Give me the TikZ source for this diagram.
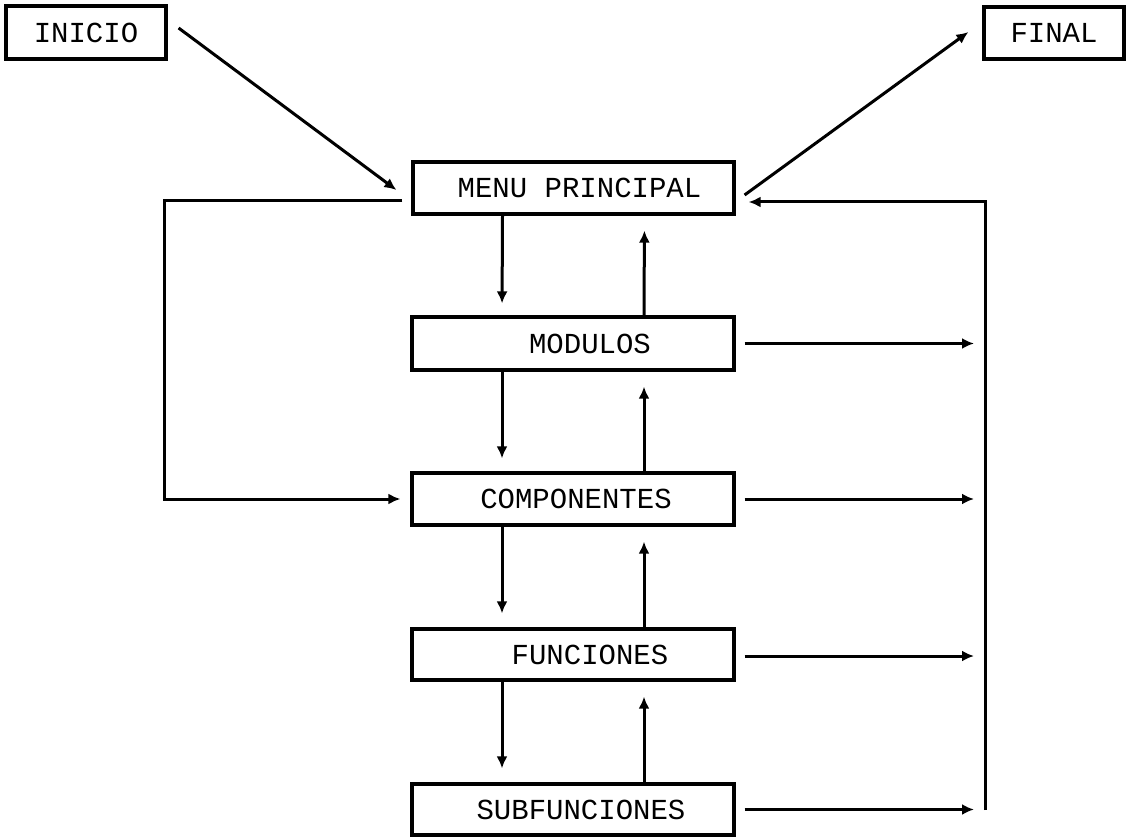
\documentclass[tikz,border=0pt]{standalone}
\usepackage{fontspec}
\setmonofont{Liberation Mono}
\usetikzlibrary{arrows.meta}
\begin{document}
\begin{tikzpicture}[x=1pt,y=-1pt,
  box/.style={draw, line width=3.2pt, rectangle, inner sep=0pt, font=\ttfamily\fontsize{29}{30}\selectfont},
  arr/.style={line width=3pt, -{Latex[length=12pt,width=11pt]}}]
\useasboundingbox (0,0) rectangle (1127,837);
\fill[white] (0,0) rectangle (1127,837);
% boxes
\node[box, minimum width=160pt, minimum height=53pt] (inicio) at (86,32.5) {INICIO};
\node[box, minimum width=140pt, minimum height=52pt] (final) at (1054,33) {FINAL};
\node[box, minimum width=321pt, minimum height=52pt] (menu) at (573.5,188) {\hspace*{12pt}MENU PRINCIPAL};
\node[box, minimum width=322pt, minimum height=53pt] (mod) at (573,343.5) {\hspace*{34pt}MODULOS};
\node[box, minimum width=322pt, minimum height=52pt] (comp) at (573,499) {\hspace*{6pt}COMPONENTES};
\node[box, minimum width=322pt, minimum height=51pt] (func) at (573,654.5) {\hspace*{34pt}FUNCIONES};
\node[box, minimum width=322pt, minimum height=51pt] (sub) at (573,809.5) {\hspace*{16pt}SUBFUNCIONES};
\coordinate (busb) at (985,810);
% start / end
\draw[arr] ([xshift=11pt,yshift=4.5pt]inicio.east) -- ([xshift=-15pt,yshift=-2pt]menu.west);
\draw[arr] ([xshift=9pt,yshift=-7pt]menu.east) -- ([xshift=-14pt,yshift=1pt]final.west);
% left loop
\draw[arr] ([xshift=-9pt,yshift=-13pt]menu.west) -| ([xshift=-246pt]comp.west) -- ([xshift=-10pt]comp.west);
% right bus
\draw[arr] (busb) |- ([xshift=13pt,yshift=-14pt]menu.east);
\draw[arr, shorten >=11pt] ([xshift=9pt]mod.east) -- (mod.east -| busb);
\draw[arr, shorten >=11pt] ([xshift=9pt]comp.east) -- (comp.east -| busb);
\draw[arr, shorten >=11pt] ([xshift=9pt,yshift=-1.5pt]func.east) -- ([yshift=-1.5pt]func.east -| busb);
\draw[arr, shorten >=11pt] ([xshift=9pt]sub.east) -- (sub.east -| busb);
% vertical arrows
\draw[arr, shorten >=12pt] ([xshift=-71pt]menu.south) -- ([xshift=-71pt]mod.north);
\draw[arr, shorten >=15pt] ([xshift=71pt]mod.north) -- ([xshift=71pt]menu.south);
\draw[arr, shorten >=13pt] ([xshift=-71pt]mod.south) -- ([xshift=-71pt]comp.north);
\draw[arr, shorten >=15pt] ([xshift=71pt]comp.north) -- ([xshift=71pt]mod.south);
\draw[arr, shorten >=14pt] ([xshift=-71pt]comp.south) -- ([xshift=-71pt]func.north);
\draw[arr, shorten >=15pt] ([xshift=71pt]func.north) -- ([xshift=71pt]comp.south);
\draw[arr, shorten >=14pt] ([xshift=-71pt]func.south) -- ([xshift=-71pt]sub.north);
\draw[arr, shorten >=15pt] ([xshift=71pt]sub.north) -- ([xshift=71pt]func.south);
\end{tikzpicture}
\end{document}
